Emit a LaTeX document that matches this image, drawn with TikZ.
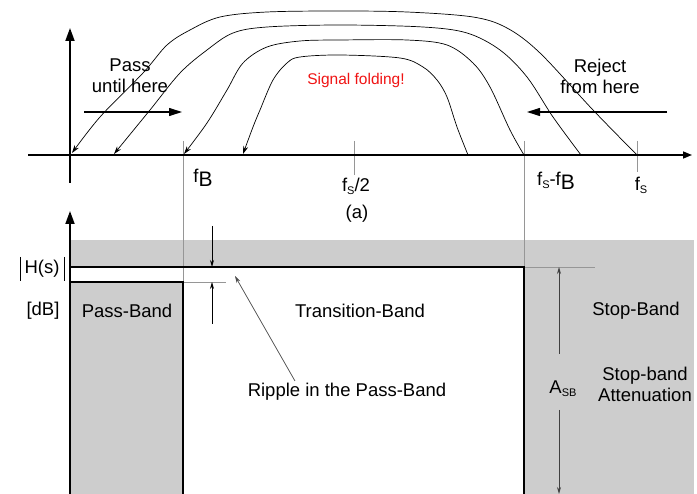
\documentclass[tikz,border=0pt]{standalone}
\usepackage{fontspec}
\setmainfont{Liberation Sans}
\usetikzlibrary{arrows.meta}
\definecolor{bandgray}{RGB}{205,205,205}
\definecolor{linegray}{RGB}{150,150,150}
\definecolor{sigred}{RGB}{240,20,20}
\newcommand{\subsm}[1]{\raisebox{-3pt}{\fontsize{11}{11}\selectfont #1}}
\newcommand{\bigB}{\raisebox{-4pt}{\fontsize{21}{21}\selectfont B}}
\begin{document}
\begin{tikzpicture}[x=1pt,y=-1pt,
  txt/.style={font=\fontsize{18.5}{22}\selectfont, inner sep=0pt, align=center},
  axisline/.style={line width=1.8pt, -{Triangle[length=13pt,width=9pt]}},
  haxis/.style={line width=1.5pt, -{Triangle[length=9pt,width=7pt]}},
  bandarrow/.style={line width=1.1pt, -{Triangle[length=13pt,width=8pt]}},
  foldcurve/.style={line width=0.7pt, -{Stealth[length=8pt,width=5pt]}},
  gline/.style={linegray, line width=0.9pt},
  dline/.style={black, line width=1.4pt},
  thinarrow/.style={line width=0.8pt, -{Stealth[length=7pt,width=4pt]}}
]
\useasboundingbox (0,0) rectangle (697,494);
\fill[white] (0,0) rectangle (697,494);

% ---------- coordinates ----------
\coordinate (hx0) at (28,155);
\coordinate (hx1) at (692,155);
\coordinate (vy0) at (70,183);
\coordinate (vy1) at (70,28);
\coordinate (ly0) at (70,494);
\coordinate (ly1) at (70,211);

\coordinate (fBtop) at (183,141);
\coordinate (fBmid) at (183,282);
\coordinate (fBbot) at (183,494);
\coordinate (fsbtop) at (524,141);
\coordinate (fsbmid) at (524,267);
\coordinate (fsbbot) at (524,494);
\coordinate (fs2top) at (354,141);
\coordinate (fs2bot) at (354,175);
\coordinate (fstop) at (637,141);
\coordinate (fsbot) at (637,172);

\coordinate (ptop) at (70,267);
\coordinate (pbot) at (70,282);
\coordinate (ptopext) at (595,267);
\coordinate (pbotext) at (226,282);

\coordinate (passA) at (84,112);
\coordinate (passB) at (182,112);
\coordinate (rejA) at (667,112);
\coordinate (rejB) at (527,112);

\coordinate (rip1a) at (212,226);
\coordinate (rip1b) at (212,267);
\coordinate (rip2a) at (212,324);
\coordinate (rip2b) at (212,282);
\coordinate (ripptr) at (235,276);
\coordinate (ripstart) at (295,381);

\coordinate (asb1a) at (559,354);
\coordinate (asb1b) at (559,267);
\coordinate (asb2a) at (559,410);
\coordinate (asb2b) at (559,494);

% ---------- gray bands ----------
\fill[bandgray] (70,240) rectangle (694,267);
\fill[bandgray] (524,267) rectangle (694,494);
\fill[bandgray] (70,282) rectangle (183,494);

% ---------- lower plot lines ----------
\draw[gline] (fBtop) -- (fBmid);
\draw[gline] (fsbtop) -- (fsbmid);
\draw[gline] (fsbmid) -- (ptopext);
\draw[gline] (fBmid) -- (pbotext);
\draw[dline] (ptop) -- (fsbmid) -- (fsbbot);
\draw[dline] (pbot) -- (fBmid) -- (fBbot);
\draw[axisline] (ly0) -- (ly1);

\draw[thinarrow] (rip1a) -- (rip1b);
\draw[thinarrow] (rip2a) -- (rip2b);
\draw[thinarrow, black!75] (asb1a) -- (asb1b);
\draw[thinarrow, black!75] (asb2a) -- (asb2b);

% ---------- top plot ----------
\draw[gline] (fs2top) -- (fs2bot);
\draw[gline] (fstop) -- (fsbot);
\draw[haxis] (hx0) -- (hx1);
\draw[axisline] (vy0) -- (vy1);

\draw[bandarrow] (passA) -- (passB);
\draw[bandarrow] (rejA) -- (rejB);

% folding curves
\draw[foldcurve] plot[smooth, tension=0.55] coordinates {(637,155) (593,110) (540,53) (507,28) (473,17) (407,12) (340,11) (267,12) (220,17) (190,30) (167,45) (143,73) (100,117) (72,153)};
\draw[foldcurve] plot[smooth, tension=0.55] coordinates {(581,155) (553,117) (527,77) (500,50) (467,33) (423,27) (340,25) (267,27) (233,33) (207,50) (180,73) (150,110) (114,154)};
\draw[foldcurve] plot[smooth, tension=0.55] coordinates {(524,155) (510,130) (490,87) (473,63) (447,45) (407,40) (340,40) (300,41) (267,47) (243,63) (227,90) (207,123) (184,154)};
\draw[foldcurve] plot[smooth, tension=0.55] coordinates {(468,155) (457,127) (447,97) (437,80) (423,67) (400,58) (340,55) (300,57) (287,63) (273,80) (260,110) (253,127) (243,154)};

% ---------- labels ----------
\node[txt] (pass) at (130,76) {Pass\\[-1pt]until here};
\node[txt] (reject) at (600,76) {Reject\\[-1pt]from here};
\node[txt, font=\fontsize{15.5}{18}\selectfont, text=sigred] (fold) at (356,80) {Signal folding!};

\node[txt] (fBlab) at (203,178) {f\bigB};
\node[txt] (fs2lab) at (356,186) {f\subsm{S}/2};
\node[txt] (alab) at (357,214) {(a)};
\node[txt] (fsfblab) at (556,181) {f\subsm{S}-f\bigB};
\node[txt] (fslab) at (641,185) {f\subsm{S}};

\node[txt] (hs) at (42,269) {H(s)};
\draw[line width=0.9pt] (20,257) -- (20,281);
\draw[line width=0.9pt] (64,257) -- (64,281);
\node[txt] (db) at (43,311) {[dB]};
\node[txt] (pb) at (127,311) {Pass-Band};
\node[txt] (tb) at (360,311) {Transition-Band};
\node[txt] (sb) at (636,311) {Stop-Band};
\node[txt] (ripple) at (347,392) {Ripple in the Pass-Band};
\draw[thinarrow, black!70, line width=0.7pt] (ripstart) -- (ripptr);
\node[txt] (asb) at (563,389) {A\subsm{SB}};
\node[txt] (sba) at (645,384) {Stop-band\\[-1pt]Attenuation};
\end{tikzpicture}
\end{document}
